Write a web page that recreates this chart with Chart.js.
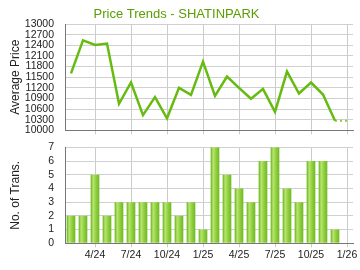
<!DOCTYPE html>
<html>
<head>
<meta charset="utf-8">
<script src="https://cdn.jsdelivr.net/npm/chart.js@4.4.0/dist/chart.umd.min.js"></script>
<style>
  body { margin: 0; background: #fff; }
  canvas { display: block; }
</style>
</head>
<body>
<canvas id="priceChart" width="360" height="135"></canvas>
<canvas id="transChart" width="360" height="135"></canvas>
<script>
// data
const months = ['2/24','3/24','4/24','5/24','6/24','7/24','8/24','9/24','10/24','11/24','12/24',
                '1/25','2/25','3/25','4/25','5/25','6/25','7/25','8/25','9/25','10/25','11/25','12/25','1/26'];
const prices = [11610,12540,12410,12450,10750,11350,10430,10940,10340,11200,11000,
                11940,10970,11520,11200,10890,11170,10520,11660,11040,11350,11010,10270,null];
const priceTail = [null,null,null,null,null,null,null,null,null,null,null,
                   null,null,null,null,null,null,null,null,null,null,null,10270,10270];
const trans = [2,2,5,2,3,3,3,3,3,2,3,1,7,5,4,3,6,7,4,3,6,6,1,null];
const priceTicks = [10000,10300,10600,10900,11200,11500,11800,12100,12400,12700,13000];

const FONT = 'Arial, "Liberation Sans", sans-serif';
const tickFont = { family: FONT, size: 10.5 };

// only every third month gets a grid line / label
function monthGrid(ctx) {
    return ctx.index % 3 === 2 ? '#cccccc' : 'rgba(0,0,0,0)';
}

function xAxis(showLabels, height) {
    return {
        type: 'category',
        offset: true,
        grid: { offset: false, color: monthGrid, tickColor: monthGrid, tickLength: 4, drawTicks: true },
        border: { color: '#777', width: 1 },
        ticks: {
            display: showLabels,
            autoSkip: false,
            maxRotation: 0,
            padding: 2,
            color: '#222',
            font: tickFont,
            callback: function(v, i) { return i % 3 === 2 ? months[i] : ''; }
        },
        afterFit: function(s) { s.height = height; }
    };
}

function yTitle(text) {
    return { display: true, text: text, color: '#222', font: { family: FONT, size: 12 }, padding: { top: 8, bottom: 0 } };
}

// fixed width, and no extra vertical padding from the tick labels
function yFit(s) {
    s.width = 65;
    s.paddingTop = 0;
    s.paddingBottom = 0;
}

new Chart(document.getElementById('priceChart'), {
    type: 'line',
    data: {
        labels: months,
        datasets: [{
            data: prices,
            borderColor: '#66bb11',
            borderWidth: 2.5,
            pointRadius: 0,
            tension: 0
        }, {
            data: priceTail,
            borderColor: '#88cc44',
            borderWidth: 2,
            borderDash: [2, 3],
            pointRadius: 0,
            tension: 0
        }]
    },
    options: {
        responsive: false,
        animation: false,
        layout: { padding: { left: 0, right: 7, top: 0, bottom: 0 } },
        plugins: {
            legend: { display: false },
            tooltip: { enabled: false },
            title: {
                display: true,
                text: 'Price Trends - SHATINPARK',
                color: '#5a9e00',
                font: { family: FONT, size: 13, weight: 'normal' },
                padding: { top: 7, bottom: 1.5 }
            }
        },
        scales: {
            x: xAxis(false, 4.7),
            y: {
                min: 10000,
                max: 13000,
                afterBuildTicks: function(s) { s.ticks = priceTicks.map(v => ({ value: v })); },
                grid: { color: '#d0d0d0', drawTicks: false },
                border: { color: '#777', width: 1 },
                ticks: { autoSkip: false, padding: 11, color: '#222', font: tickFont, callback: v => String(v) },
                title: yTitle('Average Price'),
                afterFit: yFit
            }
        }
    }
});

function barFill(ctx) {
    const c = ctx.chart;
    const xs = c.scales.x;
    if (!xs || !c.chartArea) return '#8fd03c';
    const cx = xs.getPixelForValue(ctx.dataIndex);
    const g = c.ctx.createLinearGradient(cx - 4.5, 0, cx + 4.5, 0);
    g.addColorStop(0, '#5fae10');
    g.addColorStop(0.3, '#b8e66e');
    g.addColorStop(0.6, '#92d042');
    g.addColorStop(1, '#6cb820');
    return g;
}

new Chart(document.getElementById('transChart'), {
    type: 'bar',
    data: {
        labels: months,
        datasets: [{
            data: trans,
            backgroundColor: barFill,
            borderWidth: 0,
            categoryPercentage: 1,
            barPercentage: 0.72
        }]
    },
    options: {
        responsive: false,
        animation: false,
        layout: { padding: { left: 0, right: 7, top: 12.3, bottom: 0 } },
        plugins: { legend: { display: false }, tooltip: { enabled: false } },
        scales: {
            x: xAxis(true, 26.7),
            y: {
                min: 0,
                max: 7,
                ticks: { stepSize: 1, autoSkip: false, padding: 11, color: '#222', font: tickFont },
                grid: { color: '#d0d0d0', drawTicks: false },
                border: { color: '#777', width: 1 },
                title: yTitle('No. of Trans.'),
                afterFit: yFit
            }
        }
    }
});
</script>
</body>
</html>
